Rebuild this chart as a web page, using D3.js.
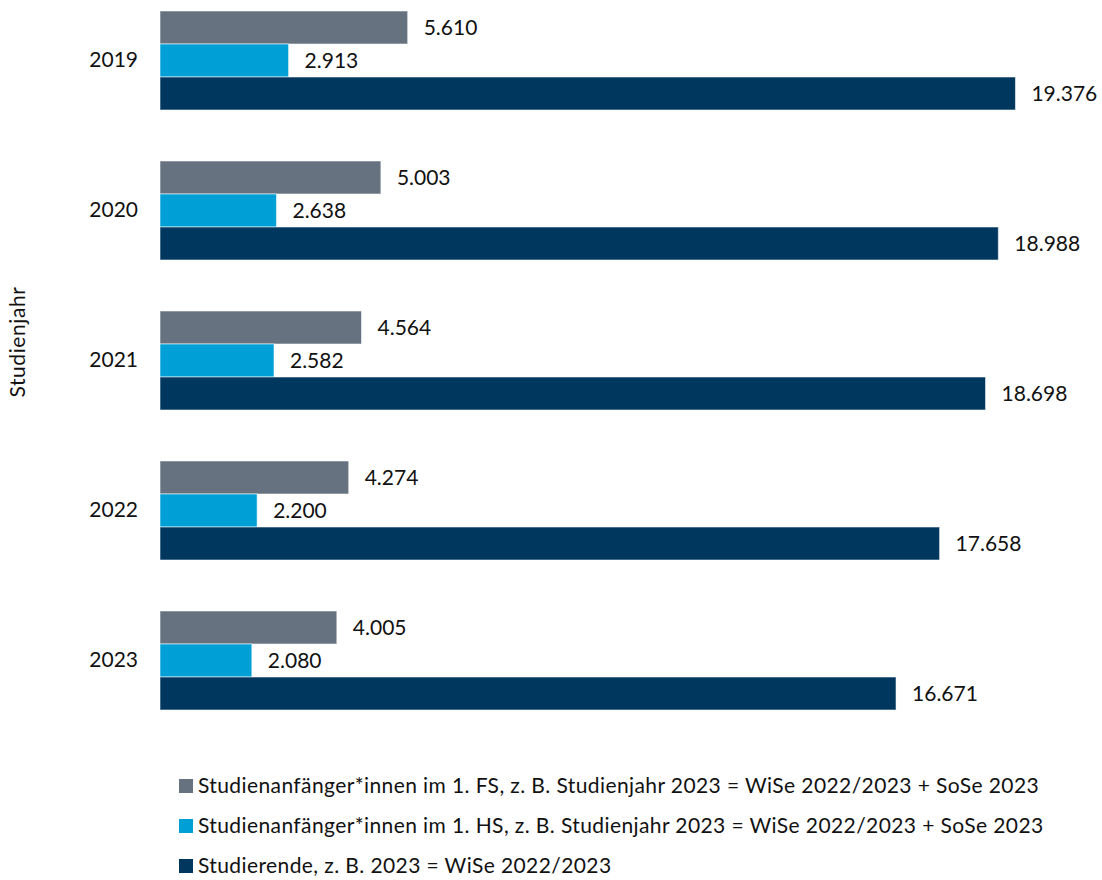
<!DOCTYPE html>
<html>
<head>
<meta charset="utf-8">
<script src="https://cdn.jsdelivr.net/npm/d3@7"></script>
<style>
  html, body { margin: 0; padding: 0; background: #fff; }
  svg { display: block; }
  text { font-family: Lato, "Open Sans", sans-serif; fill: #111; }
</style>
</head>
<body>
<svg id="chart" width="1102" height="880"></svg>
<script>
// Studienjahre und Reihen
const years = ["2019", "2020", "2021", "2022", "2023"];
const seriesNames = [
  "Studienanfänger*innen im 1. FS, z. B. Studienjahr 2023 = WiSe 2022/2023 + SoSe 2023",
  "Studienanfänger*innen im 1. HS, z. B. Studienjahr 2023 = WiSe 2022/2023 + SoSe 2023",
  "Studierende, z. B. 2023 = WiSe 2022/2023"
];
const seriesKeys = ["fs", "hs", "studierende"];
const anfaengerFS = [5610, 5003, 4564, 4274, 4005];
const anfaengerHS = [2913, 2638, 2582, 2200, 2080];
const studierende = [19376, 18988, 18698, 17658, 16671];
const colors = ["#66727f", "#00a0d6", "#00375e"];
const axisTitle = "Studienjahr";

const rows = years.map((y, i) => ({
  year: y,
  values: [
    { key: "fs", v: anfaengerFS[i] },
    { key: "hs", v: anfaengerHS[i] },
    { key: "studierende", v: studierende[i] }
  ]
}));

const svg = d3.select("#chart");
const fmt = v => d3.format(",")(v).replace(/,/g, ".");

const x = d3.scaleLinear().domain([0, 20000]).range([160, 1043]);
const y0 = d3.scaleBand().domain(years).range([-14.5, 735.5])
  .paddingInner(0.34).paddingOuter(0.17);
const y1 = d3.scaleBand().domain(seriesKeys).range([0, y0.bandwidth()]);
const color = d3.scaleOrdinal().domain(seriesKeys).range(colors);

// Kategorienachse (nur Beschriftungen)
const yAxis = d3.axisLeft(y0).tickSize(0).tickPadding(22);
const gy = svg.append("g").attr("transform", `translate(${x(0)},0)`).call(yAxis);
gy.select(".domain").remove();
gy.selectAll("text").style("font-family", "Lato, 'Open Sans', sans-serif")
  .style("font-size", "21px").attr("fill", "#111");

svg.append("text")
  .attr("transform", "translate(25,342) rotate(-90)")
  .attr("text-anchor", "middle")
  .style("font-size", "21px")
  .style("letter-spacing", "0.6px")
  .text(axisTitle);

const groups = svg.append("g").selectAll("g").data(rows).join("g")
  .attr("transform", d => `translate(0,${y0(d.year)})`);

groups.selectAll("rect").data(d => d.values).join("rect")
  .attr("x", x(0))
  .attr("y", d => y1(d.key))
  .attr("width", d => x(d.v) - x(0))
  .attr("height", y1.bandwidth())
  .attr("fill", d => color(d.key))
  .attr("stroke", "rgba(255,255,255,0.55)")
  .attr("stroke-width", 1);

groups.selectAll("text.val").data(d => d.values).join("text")
  .attr("class", "val")
  .attr("x", d => x(d.v) + 16)
  .attr("y", d => y1(d.key) + y1.bandwidth() / 2)
  .attr("dy", "0.35em")
  .style("font-size", "21px")
  .text(d => fmt(d.v));

// Legende
const legend = svg.append("g").selectAll("g").data(seriesKeys).join("g")
  .attr("transform", (d, i) => `translate(179,${786 + i * 40})`);
legend.append("rect").attr("x", 0).attr("y", -7).attr("width", 14).attr("height", 14)
  .attr("fill", d => color(d));
legend.append("text").attr("x", 19).attr("y", 0).attr("dy", "0.35em")
  .style("font-size", "21px")
  .style("letter-spacing", "0.4px")
  .text((d, i) => seriesNames[i]);
</script>
</body>
</html>
